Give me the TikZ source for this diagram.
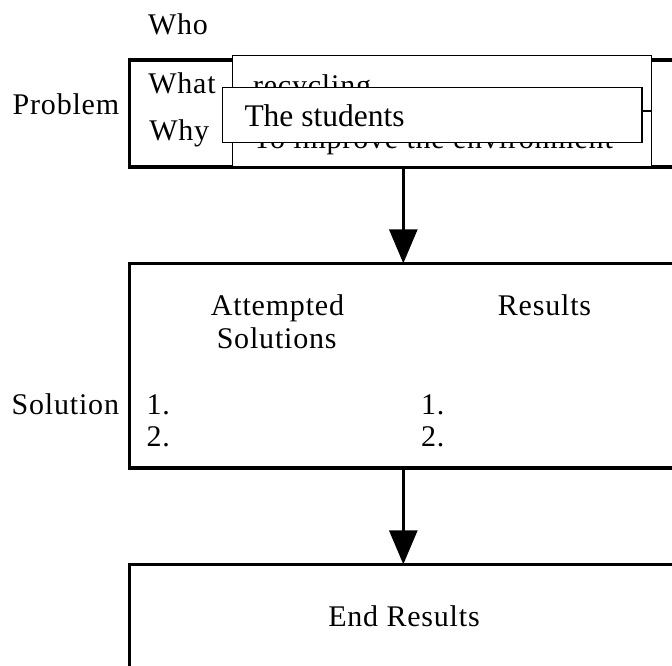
\documentclass[tikz,border=0pt]{standalone}
\usepackage{fontspec}
\setmainfont{Liberation Serif}[LetterSpace=2.7]
\newfontfamily\crispserif{Liberation Serif}
\usetikzlibrary{arrows.meta}

\begin{document}
\begin{tikzpicture}[x=1pt,y=-1pt,
  lbl/.style={inner sep=0pt, outer sep=0pt, anchor=base west,
              font=\fontsize{30}{33}\selectfont},
  lblc/.style={lbl, anchor=base},
  heavybox/.style={draw, rectangle, line width=3.5pt, inner sep=0pt,
                   outer sep=0pt, minimum width=547.6pt, anchor=north west},
  thinbox/.style={draw, rectangle, line width=1.2pt, inner sep=0pt,
                  outer sep=0pt, fill=white, anchor=north west},
  flow/.style={line width=3pt, -{Triangle[width=28pt,length=34pt]}}
]
\useasboundingbox (0,0) rectangle (672,666);
\clip (0,0) rectangle (672,666);

% three stages of the form
\node[heavybox, minimum height=107pt]   (prob) at (129.5,60) {};
\node[heavybox, minimum height=204.7pt] (sol)  at (129.5,263.3) {};
\node[heavybox, minimum height=150pt]   (fin)  at (129.5,564.3) {};

% answer column of the problem stage (two rows)
\node[thinbox, minimum width=419pt, minimum height=55.3pt] (qtop) at (232.7,55.7) {};
\node[thinbox, minimum width=419pt, minimum height=55.5pt] (qbot) at (232.7,111) {};

% row labels
\node[lbl] (who)  at (148,35)    {Who};
\node[lbl] (what) at (148.3,93.3) {What};
\node[lbl] (why)  at (149.3,141)  {Why};
\node[lbl] (ptag) at (12.7,115)   {Problem};

% answers
\node[lbl] (ans1) at (253,96)  {recycling};
\node[lbl] (ans2) at (253,149) {To improve the environment};

% overlaid answer for "Who"
\node[thinbox, minimum width=419.3pt, minimum height=54.6pt] (stud) at (222.7,87.7) {};
\node[inner sep=0pt, outer sep=0pt, anchor=base west,
      font=\crispserif\fontsize{31.5}{34}\selectfont] (studtxt) at (244.5,127) {The students};

% solution stage
\node[lblc] (att)  at (277.5,315)   {Attempted};
\node[lblc] (atts) at (276.7,348.3) {Solutions};
\node[lblc] (res)  at (544.5,315)   {Results};
\node[lbl]  (stag) at (11.7,414)    {Solution};
\node[lbl]  (a1)   at (146.7,414)   {1.};
\node[lbl]  (a2)   at (146.7,446)   {2.};
\node[lbl]  (r1)   at (421,414)     {1.};
\node[lbl]  (r2)   at (421,446)     {2.};

% final stage
\node[lblc] (endr) at (404,626) {End Results};

% connectors
\draw[flow] (prob.south) -- (sol.north);
\draw[flow] (sol.south) -- (fin.north);
\end{tikzpicture}
\end{document}
